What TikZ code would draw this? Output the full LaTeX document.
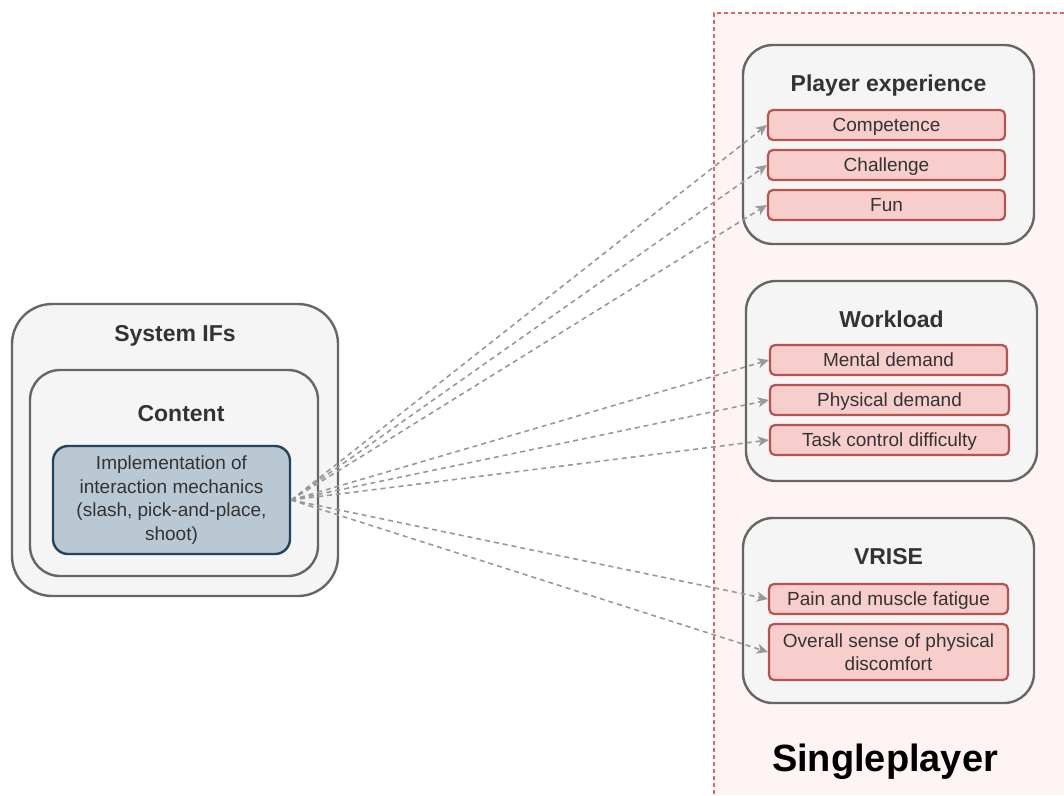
\documentclass[tikz,border=0pt]{standalone}
\usepackage{fontspec}
\setmainfont{Liberation Sans}
\usetikzlibrary{arrows.meta}
\definecolor{contfill}{HTML}{F5F5F5}
\definecolor{contline}{HTML}{666666}
\definecolor{redfill}{HTML}{F8CECC}
\definecolor{redline}{HTML}{B85450}
\definecolor{bluefill}{HTML}{BAC8D3}
\definecolor{blueline}{HTML}{23445D}
\definecolor{txt}{HTML}{333333}
\definecolor{regfill}{HTML}{FFF4F4}
\definecolor{regline}{HTML}{E06666}
\definecolor{arr}{HTML}{999999}
\tikzset{
  container/.style={draw=contline, fill=contfill, line width=2.4pt, rounded corners=30pt, inner sep=0pt},
  title/.style={text=txt, font=\fontsize{23}{28}\selectfont\bfseries, inner sep=0pt, text height=16.5pt, text depth=0pt},
  item/.style={draw=redline, fill=redfill, line width=2.2pt, rounded corners=5pt, inner sep=0pt,
    text=txt, font=\fontsize{19}{23.5}\selectfont, align=center, minimum height=30pt},
  oneline/.style={text height=13.6pt, text depth=0pt},
  link/.style={draw=arr, line width=1.6pt, dash pattern=on 5pt off 4pt,
    -{Stealth[length=11pt,width=10pt,inset=3pt]}}
}
\begin{document}
\begin{tikzpicture}[x=1pt,y=-1pt]
\useasboundingbox (0,0) rectangle (1064,795);
% region
\fill[regfill] (714,13) rectangle (1064,795);
\draw[regline, line width=1.2pt, dash pattern=on 4pt off 3pt] (1064,13) -- (714,13) -- (714,795);
\node[font=\fontsize{38}{44}\selectfont\bfseries, inner sep=0pt, text height=27.5pt, text depth=0pt] (single) at (885,758) {Singleplayer};

% left side
\node[container, rounded corners=40pt, minimum width=326pt, minimum height=292pt] (sys) at (175,450) {};
\node[title] (systitle) at (175,333) {System IFs};
\node[container, minimum width=288pt, minimum height=206pt] (cont) at (174,473) {};
\node[title] (conttitle) at (181,413) {Content};
\node[draw=blueline, fill=bluefill, line width=2.4pt, rounded corners=15pt, minimum width=237pt, minimum height=108pt,
  inner sep=0pt, text=txt, font=\fontsize{19}{23.5}\selectfont, align=center] (impl) at (171.5,500)
  {Implementation of\\interaction mechanics\\(slash, pick-and-place,\\shoot)};

% Player experience
\node[container, minimum width=291pt, minimum height=199pt] (pe) at (888.5,144.5) {};
\node[title] (petitle) at (888.5,83) {Player experience};
\node[item, oneline, minimum width=237pt] (comp) at (886.5,125) {Competence};
\node[item, oneline, minimum width=237pt] (chal) at (886.5,165) {Challenge};
\node[item, oneline, minimum width=237pt] (fun) at (886.5,205) {Fun};

% Workload
\node[container, minimum width=291pt, minimum height=200pt] (wl) at (891.5,381) {};
\node[title] (wltitle) at (891.5,319) {Workload};
\node[item, oneline, minimum width=237pt] (ment) at (888.5,360) {Mental demand};
\node[item, oneline, minimum width=239pt] (phys) at (889.5,400) {Physical demand};
\node[item, oneline, minimum width=239pt] (task) at (889.5,440) {Task control difficulty};

% VRISE
\node[container, minimum width=291pt, minimum height=185pt] (vr) at (888.5,610.5) {};
\node[title] (vrtitle) at (888.5,556) {VRISE};
\node[item, oneline, minimum width=239pt] (pain) at (888.5,599) {Pain and muscle fatigue};
\node[item, minimum width=239pt, minimum height=56pt] (over) at (888.5,652) {Overall sense of physical\\discomfort};

% links
\foreach \t in {comp,chal,fun,ment,phys,task,pain,over}
  \draw[link] (impl.east) -- (\t.west);
\end{tikzpicture}
\end{document}
